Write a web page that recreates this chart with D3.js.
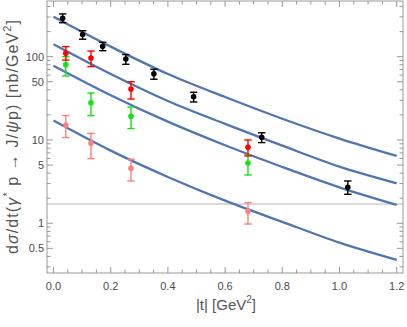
<!DOCTYPE html>
<html><head><meta charset="utf-8">
<script src="https://cdn.jsdelivr.net/npm/d3@7"></script>
<style>body{margin:0;background:#fff}svg{display:block}text{font-family:"Liberation Sans",Arial,sans-serif}</style>
</head><body>
<script>
// Theory curves (read at grid of |t|)
const curveT = [0, 0.2, 0.4, 0.6, 0.8, 1.0, 1.2];
const curve1 = [302, 132, 62, 32.8, 18, 10.4, 6.43];
const curve2 = [141, 62, 29.4, 15.6, 8.55, 4.79, 3.02];
const curve3 = [78, 34.5, 16.6, 8.64, 4.74, 2.7, 1.66];
const curve4 = [17.1, 7.45, 3.6, 1.87, 1.04, 0.585, 0.363];

// Data series
const blackT  = [0.032, 0.102, 0.172, 0.253, 0.351, 0.49, 0.728, 1.029];
const blackY  = [289, 184, 133, 93.8, 62.5, 33.1, 10.8, 2.71];
const blackHi = [326, 205, 149, 106, 70.6, 37.4, 12.2, 3.22];
const blackLo = [256, 162, 118, 81, 53.6, 28.6, 9.3, 2.23];

const colT = [0.043, 0.131, 0.271, 0.68];
const redY  = [110, 96.5, 40.9, 8.17];
const redHi = [132, 117, 50, 10];
const redLo = [91, 75.9, 31, 6.43];
const greenY  = [80.2, 28, 19.2, 5.3];
const greenHi = [100, 36.6, 24.9, 6.67];
const greenLo = [58.6, 19.6, 13.7, 3.8];
const pinkY  = [15.1, 9.13, 4.57, 1.39];
const pinkHi = [19.6, 12, 5.88, 1.77];
const pinkLo = [10.7, 5.97, 3.22, 0.98];

const hLineValue = 1.7;

const xTicks = [0, 0.2, 0.4, 0.6, 0.8, 1.0, 1.2];
const yTickLabels = [0.5, 1, 5, 10, 50, 100];

const W = 407, H = 327;
const L = 47, R = 403, T = 1, B = 273;

const svg = d3.select("body").append("svg").attr("width", W).attr("height", H);
const x = d3.scaleLinear().domain([-0.0227, 1.222]).range([L, R]);
const y = d3.scaleLog().domain([0.253, 466]).range([B, T]);

svg.append("clipPath").attr("id","clip").append("rect").attr("x",L).attr("y",T).attr("width",R-L).attr("height",B-T);
const plot = svg.append("g").attr("clip-path","url(#clip)");

// horizontal gray line
plot.append("line").attr("x1",L).attr("x2",R).attr("y1",y(hLineValue)).attr("y2",y(hLineValue))
  .attr("stroke","#cccccc").attr("stroke-width",1.5);

// curves
const line = d3.line().x(d=>x(d[0])).y(d=>y(d[1])).curve(d3.curveMonotoneX);
[curve1, curve2, curve3, curve4].forEach(c=>{
  plot.append("path").datum(curveT.map((t,i)=>[t,c[i]])).attr("d",line)
    .attr("fill","none").attr("stroke","#4f76b3").attr("stroke-width",2.3);
});

// error bars + points
function series(ts, ys, his, los, color){
  const gg = plot.append("g");
  ts.forEach((t,i)=>{
    const cx = x(t);
    gg.append("line").attr("x1",cx).attr("x2",cx).attr("y1",y(his[i])).attr("y2",y(los[i])).attr("stroke",color).attr("stroke-width",1.4);
    [his[i], los[i]].forEach(v=>{
      gg.append("line").attr("x1",cx-3.7).attr("x2",cx+3.7).attr("y1",y(v)).attr("y2",y(v)).attr("stroke",color).attr("stroke-width",1.4);
    });
    gg.append("circle").attr("cx",cx).attr("cy",y(ys[i])).attr("r",2.8).attr("fill",color);
  });
}
series(colT, pinkY, pinkHi, pinkLo, "#ff7f7f");
series(colT, greenY, greenHi, greenLo, "#19e019");
series(colT, redY, redHi, redLo, "#ff0000");
series(blackT, blackY, blackHi, blackLo, "#000000");

// frame
const frameColor = "#999999";
svg.append("rect").attr("x",L).attr("y",T).attr("width",R-L).attr("height",B-T)
  .attr("fill","none").attr("stroke",frameColor).attr("stroke-width",1);

// x ticks
const xMinor = d3.range(0, 1.2001, 0.05).filter(v=>!xTicks.some(m=>Math.abs(m-v)<1e-6));
xTicks.forEach(v=>{
  const px = x(v);
  svg.append("line").attr("x1",px).attr("x2",px).attr("y1",B).attr("y2",B-6).attr("stroke",frameColor);
  svg.append("line").attr("x1",px).attr("x2",px).attr("y1",T).attr("y2",T+6).attr("stroke",frameColor);
  svg.append("text").attr("x",px).attr("y",B+17).attr("text-anchor","middle").attr("font-size",11).attr("fill","#4d4d4d")
    .text(d3.format(".1f")(v));
});
xMinor.forEach(v=>{
  const px = x(v);
  svg.append("line").attr("x1",px).attr("x2",px).attr("y1",B).attr("y2",B-3.5).attr("stroke",frameColor);
  svg.append("line").attr("x1",px).attr("x2",px).attr("y1",T).attr("y2",T+3.5).attr("stroke",frameColor);
});

// y ticks
const yMinor = [];
[0.1, 1, 10, 100].forEach(dec=>{
  for(let k=1;k<=9;k++){ const v=k*dec; if(v>=0.253 && v<=466) yMinor.push(v); }
});
yMinor.forEach(v=>{
  const major = yTickLabels.includes(+v.toPrecision(3));
  const len = major ? 6 : 3.5;
  const py = y(v);
  svg.append("line").attr("x1",L).attr("x2",L+len).attr("y1",py).attr("y2",py).attr("stroke",frameColor);
  svg.append("line").attr("x1",R).attr("x2",R-len).attr("y1",py).attr("y2",py).attr("stroke",frameColor);
});
yTickLabels.forEach(v=>{
  svg.append("text").attr("x",L-3).attr("y",y(v)+4).attr("text-anchor","end").attr("font-size",11).attr("fill","#4d4d4d").text(v);
});

// axis labels
const xl = svg.append("text").attr("x",226).attr("y",310).attr("text-anchor","middle").attr("font-size",15).attr("fill","#555");
xl.append("tspan").text("|t| [GeV");
xl.append("tspan").attr("font-size",10).attr("dy",-7).text("2");
xl.append("tspan").attr("dy",7).text("]");

const yl = svg.append("text").attr("transform",`translate(18,137) rotate(-90)`).attr("text-anchor","middle")
  .attr("font-size",16).attr("fill","#555").attr("textLength",234).attr("lengthAdjust","spacing");
yl.append("tspan").text("d");
yl.append("tspan").attr("font-style","italic").text("σ");
yl.append("tspan").text("/dt(");
yl.append("tspan").attr("font-style","italic").text("γ");
yl.append("tspan").attr("font-size",11).attr("dy",-7).text("*");
yl.append("tspan").attr("dy",7).text(" p → J/");
yl.append("tspan").attr("font-style","italic").text("ψ");
yl.append("tspan").text("p) [nb/GeV");
yl.append("tspan").attr("font-size",11).attr("dy",-7).text("2");
yl.append("tspan").attr("dy",7).text("]");
</script>
</body></html>
